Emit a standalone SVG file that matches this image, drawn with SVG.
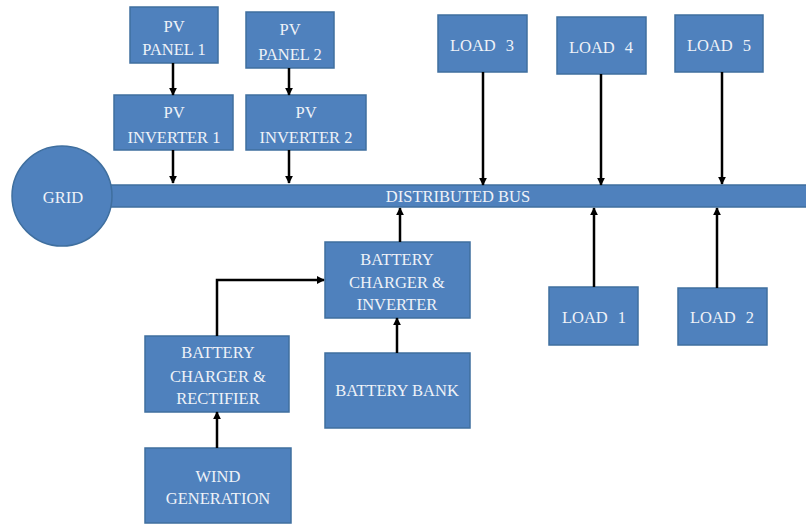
<svg xmlns="http://www.w3.org/2000/svg" width="806" height="525" viewBox="0 0 806 525">
<style>
.box{fill:#4f81bd;stroke:#3f6f9f;stroke-width:1.5}
.t{font-family:"Liberation Serif","DejaVu Serif","Times New Roman",serif;font-size:16.5px;fill:#eef2f8;text-anchor:middle}
.c{stroke:#000;stroke-width:2.5;fill:none;marker-end:url(#ah)}
</style>
<defs>
<marker id="ah" viewBox="0 0 10 10" refX="9" refY="5" markerWidth="3.2" markerHeight="3.2" orient="auto" markerUnits="strokeWidth">
<path d="M0,0 L10,5 L0,10 z" fill="#000"/>
</marker>
</defs>
<rect width="806" height="525" fill="#fff"/>
<g id="bus">
<rect class="box" x="100" y="185" width="710" height="22"/>
<text class="t" x="458" y="202">DISTRIBUTED BUS</text>
</g>
<g id="grid">
<circle class="box" cx="62" cy="196" r="50"/>
<text class="t" x="63" y="203">GRID</text>
</g>
<g id="pv-panel-1">
<rect class="box" x="130" y="7" width="88" height="56"/>
<text class="t" x="174" y="32">PV</text>
<text class="t" x="174" y="55">PANEL 1</text>
</g>
<g id="pv-panel-2">
<rect class="box" x="246" y="12" width="88" height="56"/>
<text class="t" x="290" y="35">PV</text>
<text class="t" x="290" y="60">PANEL 2</text>
</g>
<g id="pv-inverter-1">
<rect class="box" x="114" y="95" width="119" height="55"/>
<text class="t" x="174" y="118">PV</text>
<text class="t" x="174" y="143">INVERTER 1</text>
</g>
<g id="pv-inverter-2">
<rect class="box" x="246" y="95" width="120" height="55"/>
<text class="t" x="306" y="118">PV</text>
<text class="t" x="306" y="143">INVERTER 2</text>
</g>
<g id="load-3">
<rect class="box" x="438" y="15" width="89" height="57"/>
<text class="t" x="482" y="51" word-spacing="6">LOAD 3</text>
</g>
<g id="load-4">
<rect class="box" x="557" y="17" width="89" height="57"/>
<text class="t" x="601" y="53" word-spacing="6">LOAD 4</text>
</g>
<g id="load-5">
<rect class="box" x="675" y="15" width="88" height="57"/>
<text class="t" x="719" y="51" word-spacing="6">LOAD 5</text>
</g>
<g id="load-1">
<rect class="box" x="549" y="287" width="89" height="58"/>
<text class="t" x="594" y="323" word-spacing="6">LOAD 1</text>
</g>
<g id="load-2">
<rect class="box" x="678" y="288" width="89" height="57"/>
<text class="t" x="722" y="323" word-spacing="6">LOAD 2</text>
</g>
<g id="battery-charger-inverter">
<rect class="box" x="325" y="242" width="145" height="76"/>
<text class="t" x="397" y="265">BATTERY</text>
<text class="t" x="397" y="288">CHARGER &amp;</text>
<text class="t" x="397" y="310">INVERTER</text>
</g>
<g id="battery-bank">
<rect class="box" x="325" y="353" width="145" height="75"/>
<text class="t" x="397" y="396">BATTERY BANK</text>
</g>
<g id="battery-charger-rectifier">
<rect class="box" x="145" y="336" width="144" height="76"/>
<text class="t" x="218" y="358">BATTERY</text>
<text class="t" x="218" y="382">CHARGER &amp;</text>
<text class="t" x="218" y="404">RECTIFIER</text>
</g>
<g id="wind-generation">
<rect class="box" x="145" y="448" width="146" height="75"/>
<text class="t" x="218" y="482">WIND</text>
<text class="t" x="218" y="504">GENERATION</text>
</g>
<g id="connectors">
<path class="c" d="M173,63 V95"/>
<path class="c" d="M173,150 V183"/>
<path class="c" d="M289,68 V95"/>
<path class="c" d="M289,150 V183"/>
<path class="c" d="M483,72 V185"/>
<path class="c" d="M601,74 V185"/>
<path class="c" d="M722,72 V184"/>
<path class="c" d="M594,287 V208"/>
<path class="c" d="M717,288 V208"/>
<path class="c" d="M400,242 V208"/>
<path class="c" d="M397,353 V318"/>
<path class="c" d="M217,336 V280 H324"/>
<path class="c" d="M217,448 V412"/>
</g>
</svg>
